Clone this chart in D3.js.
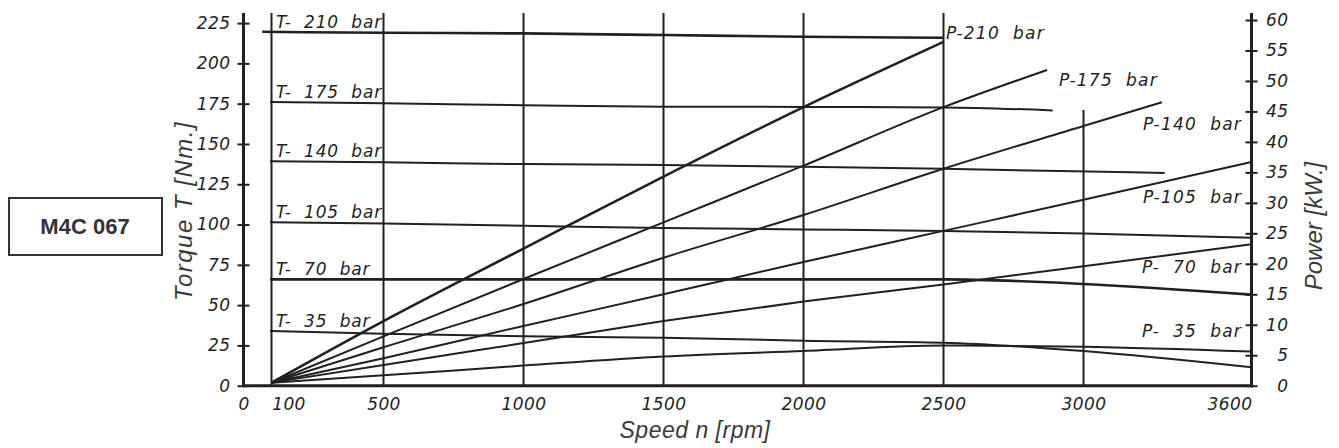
<!DOCTYPE html>
<html>
<head>
<meta charset="utf-8">
<script src="https://cdn.jsdelivr.net/npm/d3@7"></script>
<style>
  body { margin: 0; background: #fff; }
  svg text { white-space: pre; }
</style>
</head>
<body>
<div id="chart"></div>
<script>
// axis ticks
var rpmTicks = [0, 100, 500, 1000, 1500, 2000, 2500, 3000, 3600];
var gridRpm = [100, 500, 1000, 1500, 2000, 2500, 3000];
var torqueTicks = [0, 25, 50, 75, 100, 125, 150, 175, 200, 225];
var powerTicks = [0, 5, 10, 15, 20, 25, 30, 35, 40, 45, 50, 55, 60];

// torque curves [rpm, Nm]
var t210 = [[67, 219.6], [500, 219.0], [1000, 218.6], [1500, 217.6], [2000, 216.5], [2500, 215.9]];
var t175 = [[95, 176.0], [500, 175.2], [1000, 174.1], [1500, 173.1], [2000, 173.0], [2500, 172.7], [2890, 170.8]];
var t140 = [[95, 139.2], [500, 138.6], [1000, 137.5], [1500, 136.9], [2000, 135.9], [2500, 134.6], [3290, 132.0]];
var t105 = [[95, 101.4], [500, 100.6], [1000, 99.3], [1500, 97.8], [2000, 97.0], [2500, 96.0], [3000, 94.5], [3600, 91.8]];
var t70 = [[95, 66.0], [1000, 66.0], [2000, 66.0], [2500, 66.0], [3000, 63.1], [3600, 56.5]];
var t35 = [[95, 34.0], [500, 32.3], [1000, 30.7], [1500, 29.8], [2000, 27.9], [2500, 26.7], [3000, 21.5], [3600, 11.4]];

// power curves [rpm, kW]
var p210 = [[100, 0.5], [500, 10.6], [1000, 22.5], [1500, 34.3], [2000, 45.7], [2500, 56.4]];
var p175 = [[100, 0.5], [500, 8.1], [1000, 17.5], [1500, 26.8], [2000, 36.1], [2500, 45.7], [2870, 51.8]];
var p140 = [[100, 0.5], [500, 6.3], [1000, 13.4], [1500, 21.0], [2000, 28.0], [2500, 35.6], [3000, 42.6], [3280, 46.5]];
var p105 = [[100, 0.5], [500, 4.5], [1000, 9.8], [1500, 15.0], [2000, 20.3], [2500, 25.4], [3000, 30.5], [3600, 36.7]];
var p70 = [[100, 0.5], [500, 3.4], [1000, 7.0], [1500, 10.6], [2000, 13.8], [2500, 16.6], [3000, 19.6], [3600, 23.2]];
var p35 = [[100, 0.5], [500, 1.7], [1000, 3.3], [1500, 4.8], [2000, 5.7], [2500, 6.6], [3000, 6.4], [3600, 5.6]];

var torqueNames = ["T-  210  bar", "T-  175  bar", "T-  140  bar", "T-  105  bar", "T-  70  bar", "T-  35  bar"];
var powerNames = ["P-210  bar", "P-175  bar", "P-140  bar", "P-105  bar", "P-  70  bar", "P-  35  bar"];

(function() {
  var width = 1339,
    height = 448;
  var ink = "#231f20";

  var svg = d3.select("#chart")
    .append("svg")
    .attr("width", width)
    .attr("height", height);

  var x = d3.scaleLinear().domain([0, 3600]).range([243.5, 1251.5]);
  var yT = d3.scaleLinear().domain([0, 225]).range([385.7, 23.1]);
  var yP = d3.scaleLinear().domain([0, 60]).range([385.7, 20]);
  var top = 13;

  // vertical grid lines
  svg.append("g").selectAll("line")
    .data(gridRpm)
    .enter().append("line")
    .attr("x1", d => x(d)).attr("x2", d => x(d))
    .attr("y1", d => d == 3000 ? 110 : top)
    .attr("y2", yT(0))
    .attr("stroke", ink)
    .attr("stroke-width", 2);

  // curves
  var lineT = d3.line().x(d => x(d[0])).y(d => yT(d[1])).curve(d3.curveMonotoneX);
  var lineP = d3.line().x(d => x(d[0])).y(d => yP(d[1])).curve(d3.curveMonotoneX);

  var torque = [t210, t175, t140, t105, t70, t35];
  var power = [p210, p175, p140, p105, p70, p35];

  svg.append("g").selectAll("path")
    .data(torque)
    .enter().append("path")
    .attr("d", lineT)
    .attr("fill", "none")
    .attr("stroke", ink)
    .attr("stroke-width", (d, i) => i == 0 || i == 4 ? 2.6 : 2);

  svg.append("g").selectAll("path")
    .data(power)
    .enter().append("path")
    .attr("d", lineP)
    .attr("fill", "none")
    .attr("stroke", ink)
    .attr("stroke-width", (d, i) => i == 0 ? 2.6 : 2);

  // curve labels
  var labelFont = "'DejaVu Sans', sans-serif";
  svg.append("g").selectAll("text")
    .data(torque)
    .enter().append("text")
    .attr("x", 276)
    .attr("y", d => yT(d[0][1]) - 4)
    .text((d, i) => torqueNames[i])
    .attr("font-family", labelFont)
    .attr("font-style", "oblique")
    .attr("font-size", 17)
    .attr("letter-spacing", 0.8)
    .attr("fill", ink);

  var pLabelPos = [[946, 39], [1059, 86], [1242, 130], [1242, 203], [1242, 273], [1242, 337]];
  svg.append("g").selectAll("text")
    .data(powerNames)
    .enter().append("text")
    .attr("x", (d, i) => pLabelPos[i][0])
    .attr("y", (d, i) => pLabelPos[i][1])
    .attr("text-anchor", (d, i) => i < 2 ? "start" : "end")
    .text(d => d)
    .attr("font-family", labelFont)
    .attr("font-style", "oblique")
    .attr("font-size", 17)
    .attr("letter-spacing", 1.2)
    .attr("fill", ink);

  // left axis
  var axL = svg.append("g")
    .attr("transform", "translate(" + x(0) + ",0)")
    .call(d3.axisLeft(yT).tickValues(torqueTicks).tickSize(6).tickPadding(7));
  axL.select(".domain").remove();
  axL.selectAll(".tick line").attr("x1", -6).attr("x2", 6).attr("stroke", ink).attr("stroke-width", 2);
  axL.append("line").attr("y1", top).attr("y2", yT(0) + 1.5).attr("stroke", ink).attr("stroke-width", 3);

  // right axis
  var axR = svg.append("g")
    .attr("transform", "translate(" + x(3600) + ",0)")
    .call(d3.axisRight(yP).tickValues(powerTicks).tickSize(6));
  axR.select(".domain").remove();
  axR.selectAll(".tick line").attr("x1", -6).attr("x2", 6).attr("stroke", ink).attr("stroke-width", 2);
  axR.selectAll(".tick text").attr("x", 37).attr("text-anchor", "end");
  axR.append("line").attr("y1", top).attr("y2", yP(0) + 1.5).attr("stroke", ink).attr("stroke-width", 3);

  // bottom axis
  var axB = svg.append("g")
    .attr("transform", "translate(0," + yT(0) + ")")
    .call(d3.axisBottom(x).tickValues(rpmTicks).tickFormat(d3.format("d")).tickSize(0).tickPadding(12));
  axB.select(".domain").remove();
  axB.selectAll(".tick text")
    .attr("dx", d => d == 100 ? 17 : d == 3600 ? -22 : 0);
  axB.append("line").attr("x1", x(0)).attr("x2", x(3600) + 1.5).attr("stroke", ink).attr("stroke-width", 3);

  [axL, axR, axB].forEach(function(g) {
    g.selectAll(".tick text")
      .attr("font-family", labelFont)
      .attr("font-style", "oblique")
      .attr("font-size", 17)
      .attr("letter-spacing", 0.4)
      .attr("fill", ink);
  });

  // axis titles
  var titleFont = "'Liberation Sans', Arial, sans-serif";
  svg.append("text")
    .attr("transform", "translate(192,211) rotate(-90)")
    .attr("text-anchor", "middle")
    .attr("font-family", titleFont)
    .attr("font-style", "italic")
    .attr("font-size", 24)
    .attr("letter-spacing", 1.5)
    .attr("fill", "#3a3a3a")
    .text("Torque T [Nm.]");

  svg.append("text")
    .attr("transform", "translate(1322,226) rotate(-90)")
    .attr("text-anchor", "middle")
    .attr("font-family", titleFont)
    .attr("font-style", "italic")
    .attr("font-size", 24)
    .attr("fill", "#3a3a3a")
    .text("Power [kW.]");

  svg.append("text")
    .attr("x", 695)
    .attr("y", 438)
    .attr("text-anchor", "middle")
    .attr("font-family", titleFont)
    .attr("font-style", "italic")
    .attr("font-size", 23)
    .attr("letter-spacing", 0.5)
    .attr("fill", "#3a3a3a")
    .text("Speed n [rpm]");

  // model box
  svg.append("rect")
    .attr("x", 9).attr("y", 198)
    .attr("width", 153).attr("height", 57)
    .attr("fill", "none")
    .attr("stroke", "#333")
    .attr("stroke-width", 2);

  svg.append("text")
    .attr("x", 85).attr("y", 234)
    .attr("text-anchor", "middle")
    .attr("font-family", titleFont)
    .attr("font-weight", "bold")
    .attr("font-size", 22)
    .attr("fill", "#333")
    .text("M4C 067");
})();
</script>
</body>
</html>
